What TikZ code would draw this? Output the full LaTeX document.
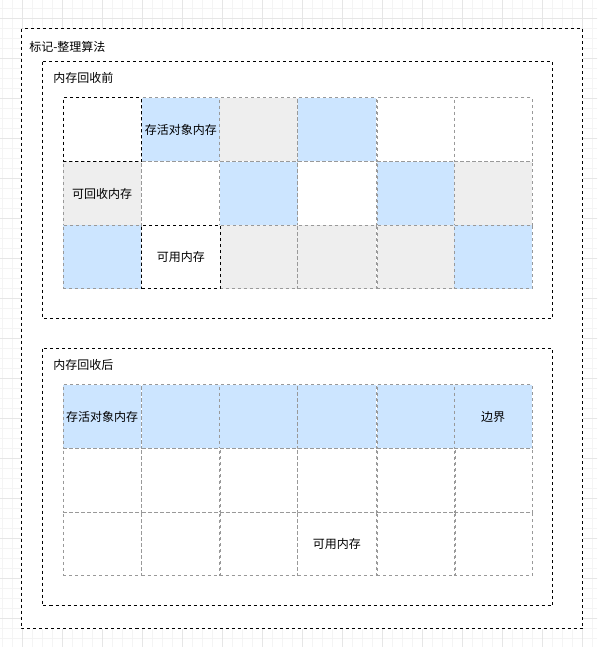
\documentclass[tikz,border=0pt]{standalone}
\usepackage{fontspec}
\setmainfont{Noto Sans CJK SC}
\usepackage{tikz}
\usetikzlibrary{positioning}

\definecolor{alive}{HTML}{CCE5FF}
\definecolor{freed}{HTML}{EEEEEE}
\definecolor{celline}{HTML}{999999}
\definecolor{gridminor}{HTML}{F4F4F4}
\definecolor{gridmajor}{HTML}{E6E6E6}

\tikzset{
  cell/.style={draw=celline,dashed,dash pattern=on 2.25pt off 2.25pt,line width=0.75pt,
    anchor=north west,inner sep=0pt,minimum width=58.7pt,minimum height=47.75pt,
    font=\fontsize{9pt}{11pt}\selectfont},
  usedcell/.style={cell,draw=black},
  frame/.style={draw=black,dash pattern=on 2.25pt off 2.25pt,line width=0.75pt,fill=white},
  caption/.style={anchor=west,inner sep=0pt,font=\fontsize{9pt}{11pt}\selectfont}
}

\begin{document}
\begin{tikzpicture}[x=0.75pt,y=-0.75pt]
  \useasboundingbox (0,0) rectangle (597,647);
  \clip (0,0) rectangle (597,647);
  \draw[gridminor,line width=0.75pt,shift={(2,8)},step=7.5pt] (-10,-10) grid (600,650);
  \draw[gridmajor,line width=0.75pt,shift={(22,18)},step=30pt] (-30,-30) grid (600,650);

  % outer frame
  \draw[frame] (21.5,28.5) rectangle (582.5,628.5);
  \node[caption] (title) at (29,47) {标记-整理算法};

  % before
  \draw[frame] (42.5,61.5) rectangle (552.5,318);
  \node[caption] (pretitle) at (53,78) {内存回收前};
  \node[cell,fill=alive] (pre12) at (141.3,97.3) {存活对象内存};
  \node[cell,fill=freed] (pre13) at (219.1,97.3) {};
  \node[cell,fill=alive] (pre14) at (297.3,97.3) {};
  \node[cell,fill=white] (pre15) at (376.5,97.3) {};
  \node[cell,fill=white] (pre16) at (453.6,97.3) {};
  \node[cell,fill=freed] (pre21) at (62.5,161.3) {可回收内存};
  \node[cell,fill=white] (pre22) at (141.3,161.3) {};
  \node[cell,fill=alive] (pre23) at (219.1,161.3) {};
  \node[cell,fill=white] (pre24) at (297.3,161.3) {};
  \node[cell,fill=alive] (pre25) at (376.5,161.3) {};
  \node[cell,fill=freed] (pre26) at (453.6,161.3) {};
  \node[cell,fill=alive] (pre31) at (62.5,224.6) {};
  \node[cell,fill=freed] (pre33) at (219.1,224.6) {};
  \node[cell,fill=freed] (pre34) at (297.3,224.6) {};
  \node[cell,fill=freed] (pre35) at (376.5,224.6) {};
  \node[cell,fill=alive] (pre36) at (453.6,224.6) {};
  \node[usedcell,fill=white] (pre11) at (62.5,97.3) {};
  \node[usedcell,fill=white] (pre32) at (141.3,224.6) {可用内存};

  % after
  \draw[frame] (42.5,348.5) rectangle (552.5,605.5);
  \node[caption] (posttitle) at (53,365) {内存回收后};
  \node[cell,fill=alive] (post11) at (62.5,384.3) {存活对象内存};
  \node[cell,fill=alive] (post12) at (141.3,384.3) {};
  \node[cell,fill=alive] (post13) at (219.1,384.3) {};
  \node[cell,fill=alive] (post14) at (297.3,384.3) {};
  \node[cell,fill=alive] (post15) at (376.5,384.3) {};
  \node[cell,fill=alive] (post16) at (453.6,384.3) {边界};
  \node[cell] (post21) at (62.5,448.3) {};
  \node[cell] (post22) at (141.3,448.3) {};
  \node[cell] (post23) at (219.1,448.3) {};
  \node[cell] (post24) at (297.3,448.3) {};
  \node[cell] (post25) at (376.5,448.3) {};
  \node[cell] (post26) at (453.6,448.3) {};
  \node[cell] (post31) at (62.5,511.6) {};
  \node[cell] (post32) at (141.3,511.6) {};
  \node[cell] (post33) at (219.1,511.6) {};
  \node[cell] (post34) at (297.3,511.6) {可用内存};
  \node[cell] (post35) at (376.5,511.6) {};
  \node[cell] (post36) at (453.6,511.6) {};
\end{tikzpicture}
\end{document}
